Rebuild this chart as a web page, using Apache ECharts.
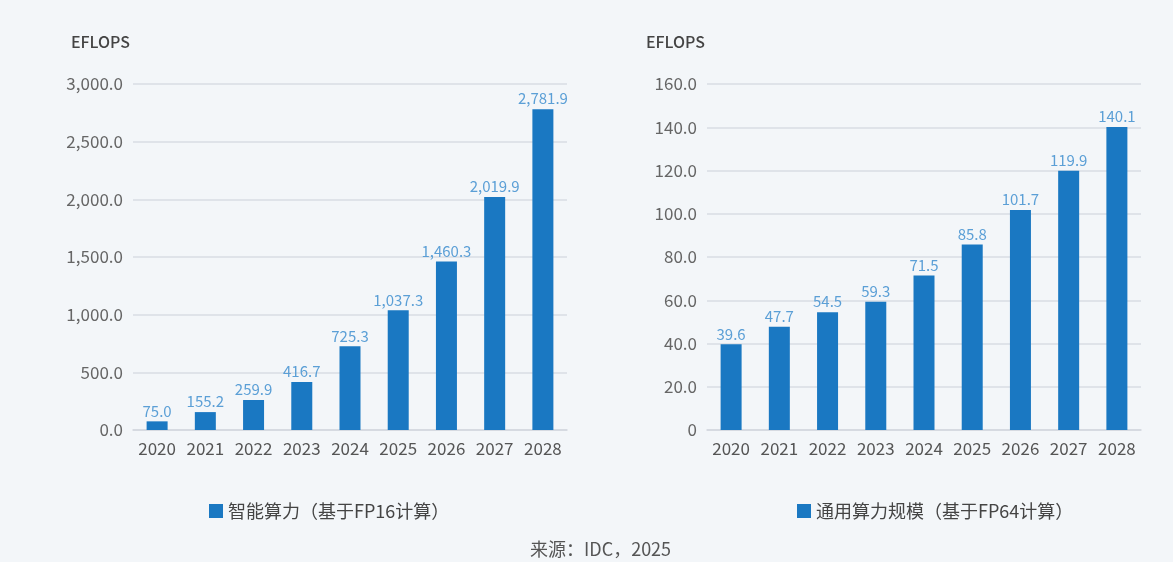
<!DOCTYPE html>
<html><head><meta charset="utf-8">
<script src="https://cdn.jsdelivr.net/npm/echarts@6/dist/echarts.min.js"></script>
<style>html,body{margin:0;padding:0;background:#f3f6f9;}#c{width:1173px;height:562px;}</style>
</head><body><div id="c"></div>
<script>
const years = ['2020','2021','2022','2023','2024','2025','2026','2027','2028'];
const aiValues = [75.0, 155.2, 259.9, 416.7, 725.3, 1037.3, 1460.3, 2019.9, 2781.9];
const generalValues = [39.6, 47.7, 54.5, 59.3, 71.5, 85.8, 101.7, 119.9, 140.1];
const aiName = '智能算力（基于FP16计算）';
const generalName = '通用算力规模（基于FP64计算）';
const unitName = 'EFLOPS';
const sourceText = '来源：IDC，2025';

const FONT = '"Noto Sans CJK SC", "Noto Sans", sans-serif';
const BAR = '#1a78c2';
const LBL = '#5b9fd6';
const fmt = v => v.toLocaleString('en-US', {minimumFractionDigits: 1, maximumFractionDigits: 1});

function xAxis(gi) {
  return {
    type: 'category', gridIndex: gi, data: years,
    axisLine: {lineStyle: {color: '#d3d8de', width: 1.5}},
    axisTick: {show: false},
    axisLabel: {color: '#555', fontSize: 17, fontFamily: FONT, margin: 10, interval: 0}
  };
}
function yAxis(gi, max, interval, zeroPlain, padRight) {
  return {
    type: 'value', gridIndex: gi, min: 0, max: max, interval: interval,
    name: unitName, nameLocation: 'end', nameGap: 34,
    nameTextStyle: {color: '#444', fontSize: 16, fontFamily: FONT, fontWeight: 500, align: 'right', padding: [0, padRight, 0, 0]},
    axisLine: {show: false}, axisTick: {show: false},
    splitLine: {lineStyle: {color: '#d8dde3', width: 1.5}},
    axisLabel: {color: '#666', fontSize: 17, fontFamily: FONT, margin: 10,
      formatter: v => (zeroPlain && v === 0) ? '0' : fmt(v)}
  };
}
function series(name, data, gi) {
  return {
    type: 'bar', name: name, data: data, xAxisIndex: gi, yAxisIndex: gi,
    barWidth: 21, itemStyle: {color: BAR},
    label: {show: true, position: 'top', distance: 3, color: LBL, fontSize: 15, fontFamily: FONT, formatter: p => fmt(p.value)}
  };
}

const chart = echarts.init(document.getElementById('c'), null, {renderer: 'canvas'});
chart.setOption({
  backgroundColor: '#f3f6f9',
  animation: false,
  grid: [
    {left: 133, right: 606, top: 84, bottom: 132},
    {left: 707, right: 32, top: 84, bottom: 132}
  ],
  xAxis: [xAxis(0), xAxis(1)],
  yAxis: [yAxis(0, 3000, 500, false, 3), yAxis(1, 160, 20, true, 2)],
  legend: [
    {data: [aiName], left: 204, top: 497, itemWidth: 14, itemHeight: 14, itemGap: 8,
      icon: 'rect', textStyle: {color: '#444', fontSize: 18, fontFamily: FONT}},
    {data: [generalName], left: 792, top: 497, itemWidth: 14, itemHeight: 14, itemGap: 8,
      icon: 'rect', textStyle: {color: '#444', fontSize: 18, fontFamily: FONT}}
  ],
  graphic: [{type: 'text', left: 530, top: 540,
    style: {text: sourceText, fill: '#555', fontSize: 18, fontFamily: FONT}}],
  series: [series(aiName, aiValues, 0), series(generalName, generalValues, 1)]
});
</script></body></html>
